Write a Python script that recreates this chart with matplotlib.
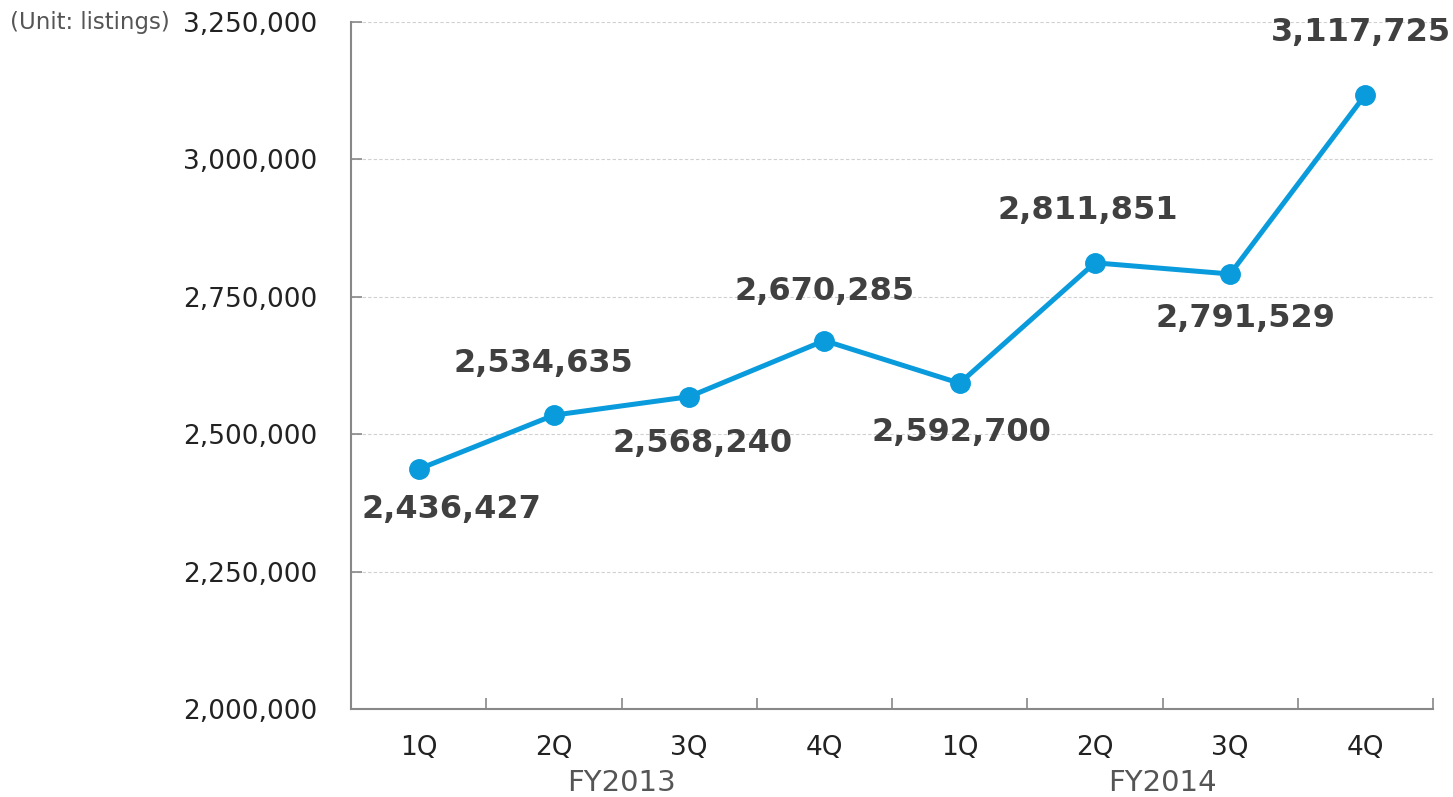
import numpy as np
import matplotlib.pyplot as plt
from matplotlib.transforms import blended_transform_factory

quarters = ['1Q', '2Q', '3Q', '4Q', '1Q', '2Q', '3Q', '4Q']
years = ['FY2013', 'FY2014']
listings = [2436427, 2534635, 2568240, 2670285, 2592700, 2811851, 2791529, 3117725]
yticks = [2000000, 2250000, 2500000, 2750000, 3000000, 3250000]

# label offsets in pixels from each point
offs = [(33, -40), (-10, 52), (13, -47), (0, 49), (2, -49), (-7, 52), (15, -45), (-4, 62)]

line_col = '#0a9bdc'
txt_col = '#404040'

fig = plt.figure(figsize=(14.53, 7.97), dpi=100)
ax = fig.add_axes([351/1453, 88/797, 1082/1453, 687/797])

x = np.arange(len(listings))
ax.plot(x, listings, color=line_col, lw=3.6, marker='o', ms=14, zorder=3)

for xi, v, (dx, dy) in zip(x, listings, offs):
    ax.annotate(f'{v:,}', (xi, v), xytext=(dx, dy), textcoords='offset pixels',
                ha='center', va='center', fontsize=23, fontweight='bold', color=txt_col)

ax.set_xlim(-0.5, 7.5)
ax.set_ylim(2000000, 3250000)
ax.set_yticks(yticks)
ax.set_yticklabels([f'{t:,}' for t in yticks])
ax.yaxis.grid(True, ls=(0, (3, 2)), color='#d0d0d0', lw=0.8)
ax.set_axisbelow(True)

ax.set_xticks(x)
ax.set_xticklabels(quarters)
ax.set_xticks(np.arange(0.5, 8, 1), minor=True)
ax.tick_params(axis='x', which='major', length=0, pad=19, labelsize=19, labelcolor='#222222')
ax.tick_params(axis='x', which='minor', direction='in', length=8, color='#888888', width=1.2)
ax.tick_params(axis='y', direction='in', length=8, color='#888888', width=1.2,
               pad=24, labelsize=19, labelcolor='#222222')

for s in ['top', 'right']:
    ax.spines[s].set_visible(False)
for s in ['left', 'bottom']:
    ax.spines[s].set_color('#888888')
    ax.spines[s].set_linewidth(1.5)

tr = blended_transform_factory(ax.transData, ax.transAxes)
for i, yr in enumerate(years):
    ax.text(1.5 + 4 * i, -0.108, yr, transform=tr, ha='center', va='center',
            fontsize=21, color='#555555')

fig.text(10/1453, 1 - 22/797, '(Unit: listings)', ha='left', va='center',
         fontsize=16.5, color='#555555')

fig.savefig('out.png', dpi=100)
